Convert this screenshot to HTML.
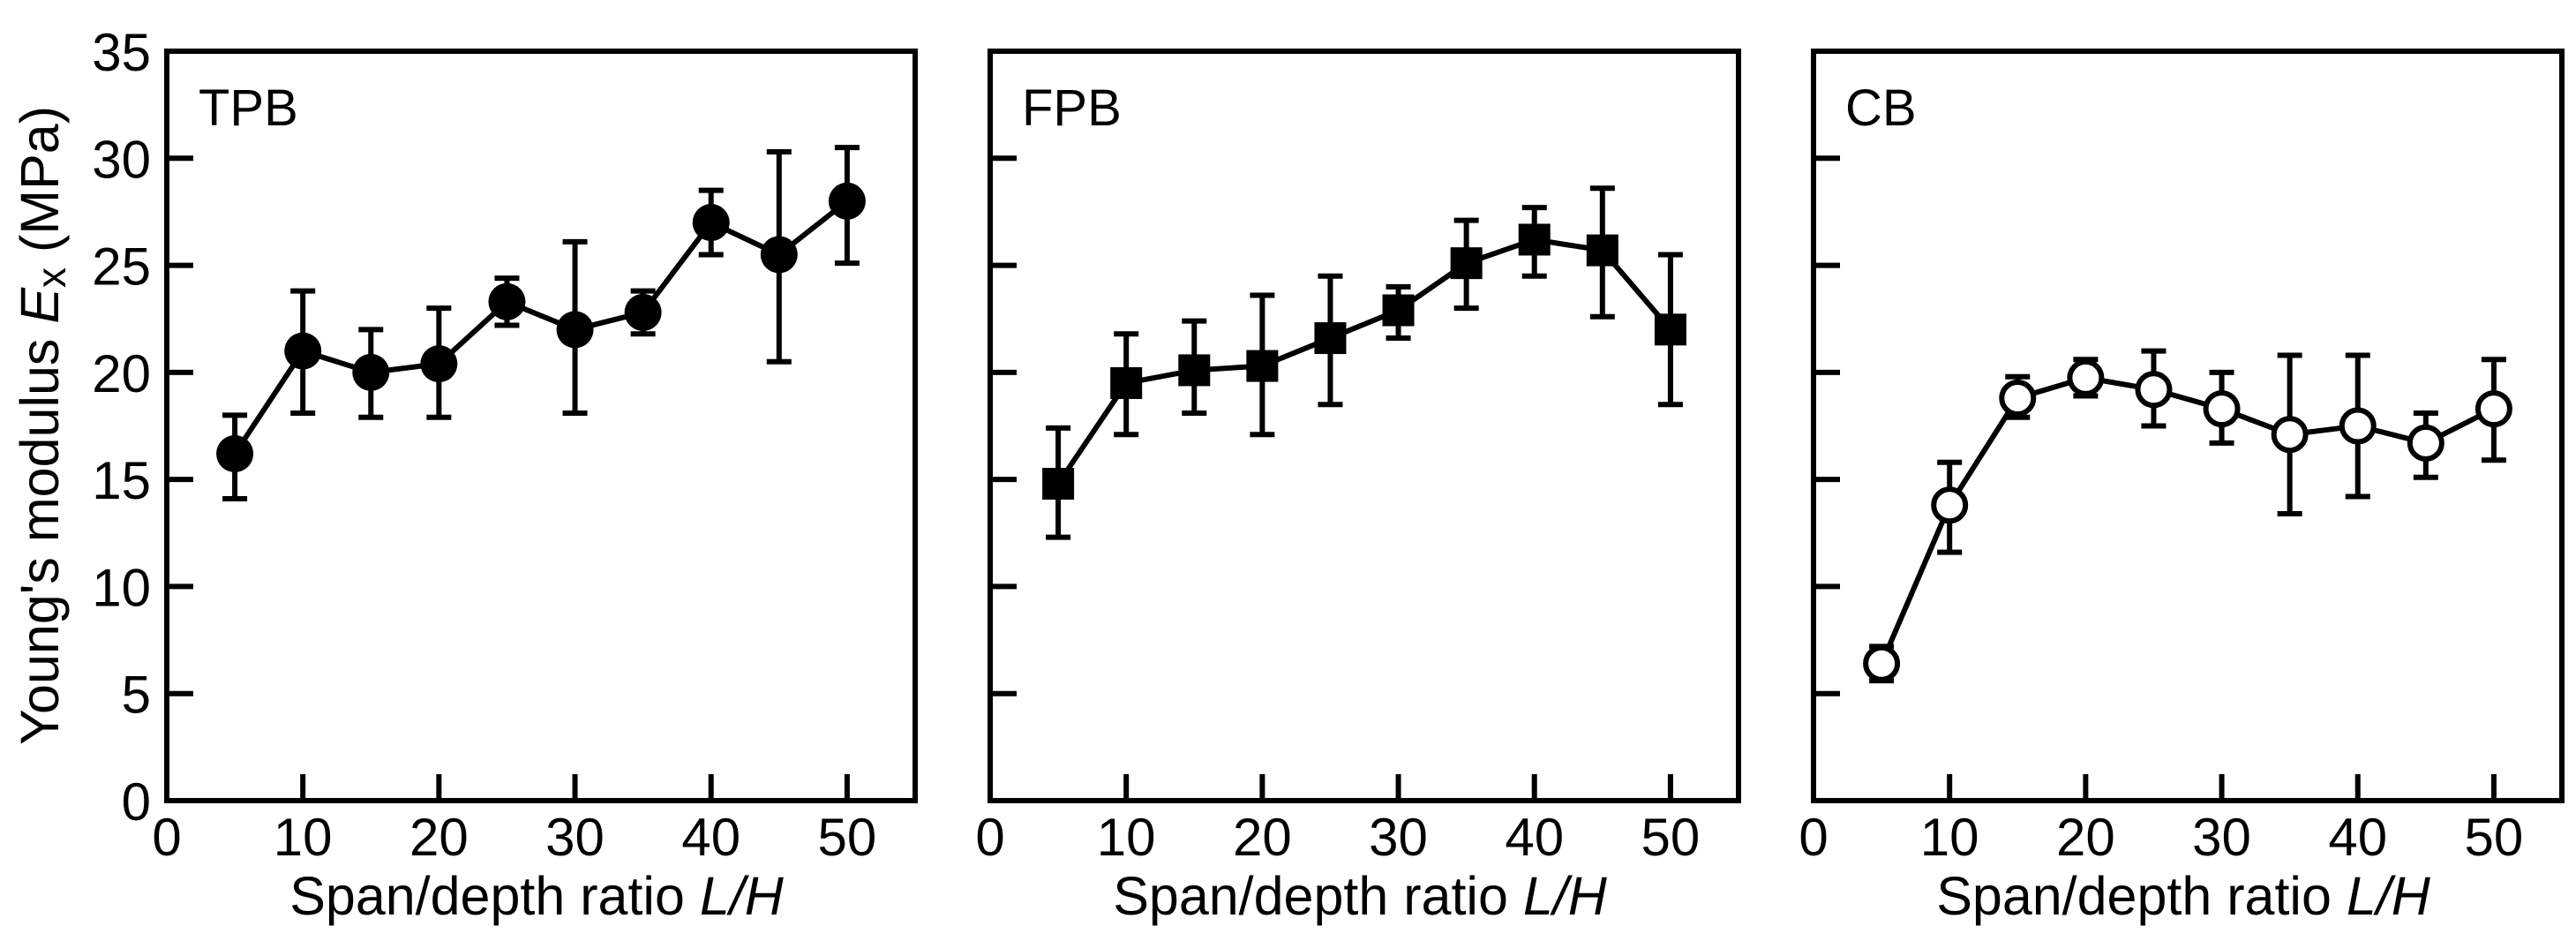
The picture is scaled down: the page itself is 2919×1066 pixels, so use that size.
<!DOCTYPE html>
<html><head><meta charset="utf-8"><style>
html,body{margin:0;padding:0;background:#fff;}
svg{display:block;font-family:"Liberation Sans",Arial,sans-serif;}
</style></head><body>
<svg id="chart" width="2919" height="1066" viewBox="0 0 2919 1066" xmlns="http://www.w3.org/2000/svg">
<text transform="translate(50,482) rotate(-90)" text-anchor="middle" dominant-baseline="middle" font-size="61">Young's modulus <tspan font-style="italic">E</tspan><tspan font-size="46" dy="12">x</tspan><tspan dy="-12"> (MPa)</tspan></text>
</svg>
<script>
const xValues = [5,10,15,20,25,30,35,40,45,50];
const tpbMean = [16.2,21,20,20.4,23.3,22,22.8,27,25.5,28];
const tpbLow  = [14.1,18.1,17.9,17.9,22.2,18.1,21.8,25.5,20.5,25.1];
const tpbHigh = [18,23.8,22,23,24.4,26.1,23.8,28.5,30.3,30.5];
const fpbMean = [14.8,19.5,20.1,20.3,21.6,22.9,25.1,26.2,25.7,22];
const fpbLow  = [12.3,17.1,18.1,17.1,18.5,21.6,23,24.5,22.6,18.5];
const fpbHigh = [17.4,21.8,22.4,23.6,24.5,24,27.1,27.7,28.6,25.5];
const cbMean = [6.4,13.8,18.8,19.75,19.2,18.3,17.1,17.5,16.7,18.3];
const cbLow  = [5.6,11.6,17.9,18.9,17.5,16.7,13.4,14.2,15.1,15.9];
const cbHigh = [7.2,15.8,19.8,20.6,21,20,20.8,20.8,18.1,20.6];
const xTicks = [0,10,20,30,40,50];
const yTicks = [0,5,10,15,20,25,30,35];
const panelNames = ["TPB","FPB","CB"];

const NS="http://www.w3.org/2000/svg";
const svg=document.getElementById('chart');
function mk(tag,attrs,parent){const e=document.createElementNS(NS,tag);for(const k in attrs)e.setAttribute(k,attrs[k]);(parent||svg).appendChild(e);return e;}

const panels=[
 {left:189,name:panelNames[0],mean:tpbMean,low:tpbLow,high:tpbHigh,marker:'circle'},
 {left:1122,name:panelNames[1],mean:fpbMean,low:fpbLow,high:fpbHigh,marker:'square'},
 {left:2055,name:panelNames[2],mean:cbMean,low:cbLow,high:cbHigh,marker:'open'}
];
const W=848, topY=58, bottomY=907, xMax=55, yMax=35, SW=6;

panels.forEach((p,pi)=>{
  const g=mk('g',{});
  
  
  const X=v=>p.left+v/xMax*W;
  const Y=v=>bottomY-v/yMax*(bottomY-topY);
  const frame=mk('rect',{x:p.left,y:topY,width:W,height:bottomY-topY,fill:'none',stroke:'#000','stroke-width':SW},g);
  
  
  xTicks.forEach(t=>{
    if(t>0){const tk=mk('line',{x1:X(t),x2:X(t),y1:bottomY,y2:bottomY-30,stroke:'#000','stroke-width':SW},g);
      
      }
    const tl=mk('text',{x:X(t),y:969,'text-anchor':'middle','font-size':60},g);
    tl.textContent=t;
    
    
  });
  yTicks.forEach(t=>{
    if(t>0&&t<yMax){const tk=mk('line',{x1:p.left,x2:p.left+30,y1:Y(t),y2:Y(t),stroke:'#000','stroke-width':SW},g);
      
      }
    if(pi===0){const tl=mk('text',{x:171,y:Y(t)+22,'text-anchor':'end','font-size':60},g);
      tl.textContent=t;
      
      }
  });
  const xl=mk('text',{x:p.left+W/2-5,y:1036,'text-anchor':'middle','font-size':61},g);
  xl.innerHTML='Span/depth ratio <tspan font-style="italic">L/H</tspan>';
  
  
  const nm=mk('text',{x:p.left+36,y:142,'font-size':58},g);
  nm.textContent=p.name;
  
  
  xValues.forEach((xv,i)=>{
    const eb=mk('path',{d:`M${X(xv)},${Y(p.low[i])}V${Y(p.high[i])}M${X(xv)-14},${Y(p.low[i])}h28M${X(xv)-14},${Y(p.high[i])}h28`,stroke:'#000','stroke-width':SW,fill:'none'},g);
    
    
  });
  const ln=mk('polyline',{points:xValues.map((xv,i)=>X(xv)+','+Y(p.mean[i])).join(' '),fill:'none',stroke:'#000','stroke-width':SW},g);
  
  
  xValues.forEach((xv,i)=>{
    let m;
    if(p.marker==='circle') m=mk('circle',{cx:X(xv),cy:Y(p.mean[i]),r:21,fill:'#000'},g);
    else if(p.marker==='square') m=mk('rect',{x:X(xv)-18,y:Y(p.mean[i])-18,width:36,height:36,fill:'#000'},g);
    else m=mk('circle',{cx:X(xv),cy:Y(p.mean[i]),r:18,fill:'#fff',stroke:'#000','stroke-width':SW},g);
    
    
  });
});
</script>
</body></html>
